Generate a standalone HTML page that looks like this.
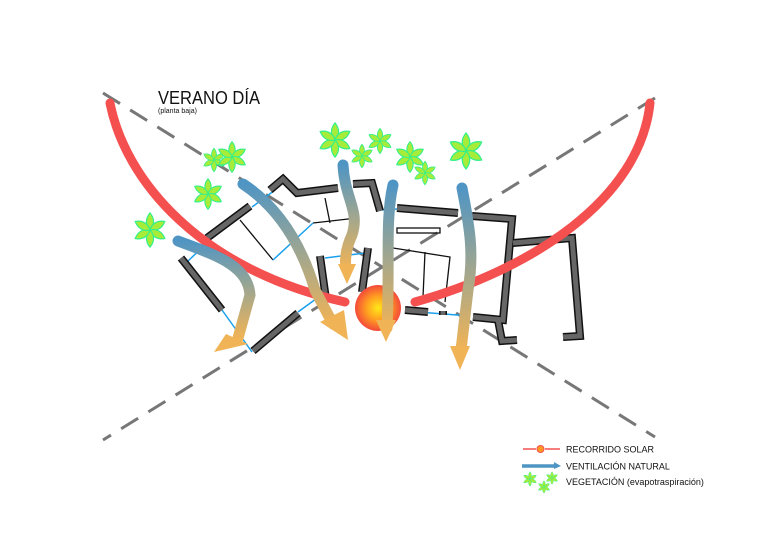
<!DOCTYPE html>
<html><head><meta charset="utf-8"><style>
html,body{margin:0;padding:0;background:#fff;width:768px;height:543px;overflow:hidden}
svg{display:block}
text{font-family:"Liberation Sans",sans-serif;fill:#111}
</style></head><body>
<svg width="768" height="543" viewBox="0 0 768 543" xmlns="http://www.w3.org/2000/svg">
<defs>
<linearGradient id="ga" x1="0" y1="0" x2="0" y2="1"><stop offset="0" stop-color="#4f95c4"/><stop offset="0.55" stop-color="#a8a88a"/><stop offset="1" stop-color="#f0b356"/></linearGradient>
<radialGradient id="sun"><stop offset="0" stop-color="#ffe81a"/><stop offset="0.5" stop-color="#ffa020"/><stop offset="1" stop-color="#f44a3a"/></radialGradient>
<path id="leaf" d="M0 0 C5 -5 5 -12 0 -18 C-5 -12 -5 -5 0 0Z"/>
<g id="pl">
<g fill="#a8ec3a" stroke="#34f08a" stroke-width="1.3">
<use href="#leaf"/>
<use href="#leaf" transform="rotate(60)"/>
<use href="#leaf" transform="rotate(120)"/>
<use href="#leaf" transform="rotate(180)"/>
<use href="#leaf" transform="rotate(240)"/>
<use href="#leaf" transform="rotate(300)"/>
</g></g>
</defs>

<g stroke="#777" stroke-width="3" stroke-dasharray="20 12" fill="none">
<line x1="103" y1="93" x2="655" y2="437"/>
<line x1="655" y1="98" x2="103" y2="440"/>
</g>

<g stroke="#111" stroke-width="1.3" fill="none">
<path d="M240 220 L273 260"/>
<path d="M325 198 L330 223"/>
<path d="M313 223 L357 218"/>
<path d="M393 248 L450 257 L445 302"/>
<path d="M425 252 L423 297"/>
<rect x="397" y="228" width="43" height="5"/>
</g>
<g stroke="#1aa0ee" stroke-width="1.5" fill="none">
<path d="M187 262 L210 240"/>
<path d="M222 310 L252 352"/>
<path d="M273 260 L313 223"/>
<path d="M325 258 L365 253"/>
<path d="M405 311 L470 316"/>
<path d="M298 312 L320 296"/>
<path d="M252 207 L275 190"/>
<path d="M380 210 L397 209"/>
</g>

<g stroke="#111" stroke-width="8" fill="none">
<path d="M250 206 L207 238"/>
<path d="M181 258 L222 310"/>
<path d="M253 351 L298 313"/>
<path d="M270 190 L283 179 L297 193 L338 188"/>
<path d="M353 184 L372 183 L380 211"/>
<path d="M320 256 L325 292 L317 294"/>
<path d="M368 248 L362 292"/>
<path d="M397 208 L458 213"/>
<path d="M472 216 L512 219 L503 320 L473 317"/>
<path d="M498 320 L502 341 L517 340"/>
<path d="M513 243 L572 238 L580 336 L563 337"/>
<path d="M405 310 L428 312"/>
<path d="M443 311 L443 315"/>
</g>
<g stroke="#666" stroke-width="5" fill="none">
<path d="M250 206 L207 238"/>
<path d="M181 258 L222 310"/>
<path d="M253 351 L298 313"/>
<path d="M270 190 L283 179 L297 193 L338 188"/>
<path d="M353 184 L372 183 L380 211"/>
<path d="M320 256 L325 292 L317 294"/>
<path d="M368 248 L362 292"/>
<path d="M397 208 L458 213"/>
<path d="M472 216 L512 219 L503 320 L473 317"/>
<path d="M498 320 L502 341 L517 340"/>
<path d="M513 243 L572 238 L580 336 L563 337"/>
<path d="M405 310 L428 312"/>
<path d="M443 311 L443 315"/>
</g>

<g stroke="#f45050" stroke-width="9" fill="none" stroke-linecap="round">
<path d="M110 103 C125 180 200 270 345 302"/>
<path d="M415 302 C530 270 640 200 650 103"/>
</g>
<circle cx="378" cy="308" r="23" fill="url(#sun)"/>

<use href="#pl" transform="translate(335,140) scale(0.95)"/>
<use href="#pl" transform="translate(380,141) scale(0.7)"/>
<use href="#pl" transform="translate(362,156) scale(0.65)"/>
<use href="#pl" transform="translate(214,160) scale(0.65)"/>
<use href="#pl" transform="translate(232,157) scale(0.85)"/>
<use href="#pl" transform="translate(208,194) scale(0.85)"/>
<use href="#pl" transform="translate(150,230) scale(0.95)"/>
<use href="#pl" transform="translate(410,157) scale(0.85)"/>
<use href="#pl" transform="translate(425,173) scale(0.65)"/>
<use href="#pl" transform="translate(466,151) scale(1.0)"/>

<g fill="none" stroke-linecap="round" stroke-width="11">
<path d="M243 184 C275 205 300 240 315 290 L333 324" stroke="url(#ga)"/>
<path d="M178 241 C215 255 248 265 250 295 L238 338" stroke="url(#ga)"/>
<path d="M343 165 C345 200 360 210 352 235 C345 250 345 262 346 268" stroke="url(#ga)"/>
<path d="M393 185 C385 220 390 260 387 328" stroke="url(#ga)"/>
<path d="M462 188 C468 220 475 250 468 290 L461 350" stroke="url(#ga)"/>
</g>
<g fill="#f0b356">
<polygon points="320,322 348,340 344,310"/>
<polygon points="226,334 214,352 248,344"/>
<polygon points="338,264 347,284 356,264"/>
<polygon points="376,320 386,342 396,320"/>
<polygon points="450,346 460,370 470,346"/>
</g>

<text x="158" y="104" font-size="18" textLength="102" lengthAdjust="spacingAndGlyphs">VERANO DÍA</text>
<text x="158" y="113" font-size="7">(planta baja)</text>

<line x1="523" y1="449" x2="536" y2="449" stroke="#f45050" stroke-width="1.5"/>
<line x1="545" y1="449" x2="560" y2="449" stroke="#f45050" stroke-width="1.5"/>
<circle cx="540.5" cy="449" r="3.5" fill="#ff9a20" stroke="#f45050"/>
<text x="566" y="452.5" font-size="9">RECORRIDO SOLAR</text>
<path d="M522 466 L556 466" stroke="#4f95c4" stroke-width="3.5"/>
<polygon points="554,462 561,466 554,469" fill="#4f95c4"/>
<text x="566" y="469.5" font-size="9">VENTILACIÓN NATURAL</text>
<use href="#pl" transform="translate(530,479) scale(0.4)"/>
<use href="#pl" transform="translate(552,478) scale(0.35)"/>
<use href="#pl" transform="translate(544,487) scale(0.35)"/>
<text x="566" y="485" font-size="9">VEGETACIÓN (evapotraspiración)</text>
</svg>
</body></html>
